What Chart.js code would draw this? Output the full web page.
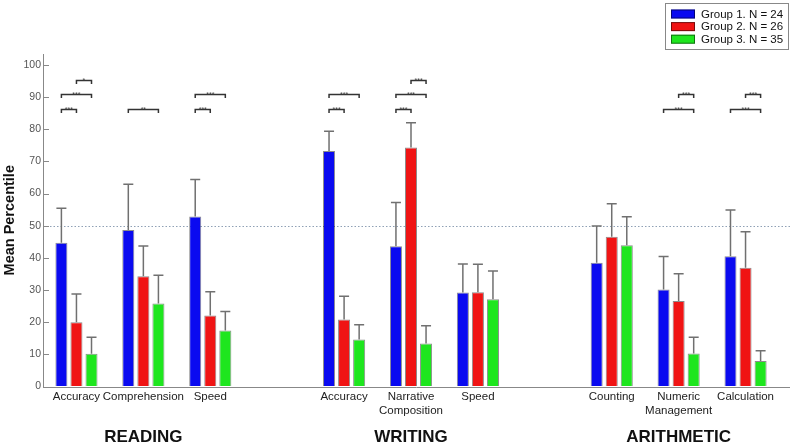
<!DOCTYPE html>
<html>
<head>
<meta charset="utf-8">
<script src="https://cdn.jsdelivr.net/npm/chart.js@4"></script>
<style>
  html, body { margin: 0; padding: 0; background: #fff; }
  #wrap { width: 794px; height: 447px; }
</style>
</head>
<body>
<div id="wrap"><canvas id="chart" width="794" height="447"></canvas></div>
<script>
// categories (blank slots separate the three domains)
const categories = ['Accuracy', 'Comprehension', 'Speed', '',
  'Accuracy', ['Narrative', 'Composition'], 'Speed', '',
  'Counting', ['Numeric', 'Management'], 'Calculation'];
const domains = ['READING', 'WRITING', 'ARITHMETIC'];
const domainCategory = [1, 5, 9]; // which category each domain title sits under

const groupLabels = ['Group 1. N = 24', 'Group 2. N = 26', 'Group 3. N = 35'];
const groupColors = ['#0a0af0', '#f01414', '#1ee61e'];

// means and top of error bars
const group1Means = [44.7, 48.7, 52.9, null, 73.2, 43.6, 29.2, null, 38.5, 30.2, 40.5];
const group1Upper = [55.4, 62.9, 64.4, null, 79.4, 57.2, 38.1, null, 49.9, 40.4, 54.9];
const group2Means = [20.0, 34.3, 22.1, null, 20.8, 74.3, 29.3, null, 46.6, 26.6, 36.9];
const group2Upper = [28.8, 43.7, 29.5, null, 28.1, 82.0, 38.0, null, 56.8, 35.1, 48.1];
const group3Means = [10.2, 25.8, 17.4, null, 14.6, 13.4, 27.1, null, 43.9, 10.3, 7.9];
const group3Upper = [15.3, 34.6, 23.3, null, 19.2, 18.9, 35.9, null, 52.8, 15.3, 11.1];

const yTicks = [0, 10, 20, 30, 40, 50, 60, 70, 80, 90, 100];
const refLine = 50;

// significance brackets: [category, group a, group b, height, stars]
const sigBrackets = [
  [0, 0, 1, 86.3, '***'], [0, 0, 2, 91.1, '***'], [0, 1, 2, 95.3, '*'],
  [1, 0, 2, 86.3, '**'],
  [2, 0, 1, 86.3, '***'], [2, 0, 2, 91.1, '***'],
  [4, 0, 1, 86.3, '***'], [4, 0, 2, 91.1, '***'],
  [5, 0, 1, 86.3, '***'], [5, 0, 2, 91.1, '***'], [5, 1, 2, 95.3, '***'],
  [9, 0, 2, 86.3, '***'], [9, 1, 2, 91.1, '***'],
  [10, 0, 2, 86.3, '***'], [10, 1, 2, 91.1, '***']
];

const upperByGroup = [group1Upper, group2Upper, group3Upper];
const FONT = '"Liberation Sans", Arial, sans-serif';
const AXIS_END = 790; // original axis line runs a bit past the last bars

const extras = {
  id: 'extras',
  beforeDatasetsDraw(chart) {
    const ctx = chart.ctx, a = chart.chartArea, y = chart.scales.y;
    ctx.save();
    // dotted 50th percentile line
    const py = Math.round(y.getPixelForValue(refLine)) + 0.5;
    ctx.strokeStyle = '#8fa0b5';
    ctx.lineWidth = 1;
    ctx.setLineDash([1.5, 2]);
    ctx.beginPath();
    ctx.moveTo(a.left, py);
    ctx.lineTo(AXIS_END, py);
    ctx.stroke();
    ctx.setLineDash([]);
    // inward y ticks
    ctx.strokeStyle = '#888';
    yTicks.forEach(v => {
      const ty = Math.round(y.getPixelForValue(v)) + 0.5;
      ctx.beginPath();
      ctx.moveTo(a.left, ty);
      ctx.lineTo(a.left + 6, ty);
      ctx.stroke();
    });
    ctx.restore();
  },
  afterDatasetsDraw(chart) {
    const ctx = chart.ctx, a = chart.chartArea, y = chart.scales.y;
    ctx.save();
    // error bars (upper only)
    ctx.strokeStyle = '#707070';
    ctx.lineWidth = 1.5;
    upperByGroup.forEach((upper, d) => {
      const meta = chart.getDatasetMeta(d);
      upper.forEach((u, i) => {
        if (u == null) return;
        const bar = meta.data[i];
        const top = y.getPixelForValue(u);
        ctx.beginPath();
        ctx.moveTo(bar.x, bar.y);
        ctx.lineTo(bar.x, top);
        ctx.moveTo(bar.x - 5, top);
        ctx.lineTo(bar.x + 5, top);
        ctx.stroke();
      });
    });
    // x axis line
    const by = Math.round(a.bottom) + 0.5;
    ctx.strokeStyle = '#888';
    ctx.lineWidth = 1;
    ctx.beginPath();
    ctx.moveTo(a.left, by);
    ctx.lineTo(AXIS_END, by);
    ctx.stroke();
    // significance brackets
    ctx.strokeStyle = '#333';
    ctx.lineWidth = 1.5;
    ctx.fillStyle = '#444';
    ctx.font = '7px ' + FONT;
    ctx.textAlign = 'center';
    ctx.textBaseline = 'alphabetic';
    sigBrackets.forEach(([c, g1, g2, lvl, stars]) => {
      const x1 = chart.getDatasetMeta(g1).data[c].x;
      const x2 = chart.getDatasetMeta(g2).data[c].x;
      const ly = Math.round(y.getPixelForValue(lvl)) + 0.5;
      ctx.beginPath();
      ctx.moveTo(x1, ly + 3.5);
      ctx.lineTo(x1, ly);
      ctx.lineTo(x2, ly);
      ctx.lineTo(x2, ly + 3.5);
      ctx.stroke();
      ctx.fillText(stars, (x1 + x2) / 2, ly + 2);
    });
    ctx.restore();
  },
  afterDraw(chart) {
    const ctx = chart.ctx, x = chart.scales.x;
    ctx.save();
    // domain titles
    ctx.fillStyle = '#111';
    ctx.font = 'bold 17px ' + FONT;
    ctx.textAlign = 'center';
    ctx.textBaseline = 'middle';
    domains.forEach((name, i) => {
      ctx.fillText(name, x.getPixelForValue(domainCategory[i]), 437);
    });
    // legend box
    ctx.strokeStyle = '#888';
    ctx.lineWidth = 1;
    ctx.strokeRect(665.5, 3.5, 123, 46);
    ctx.font = '11.5px ' + FONT;
    ctx.textAlign = 'left';
    chart.data.datasets.forEach((ds, i) => {
      const cy = 14 + i * 12.6;
      ctx.fillStyle = ds.backgroundColor;
      ctx.fillRect(671, cy - 4.5, 24, 9);
      ctx.strokeStyle = 'rgba(0,0,0,0.5)';
      ctx.strokeRect(671.5, cy - 4, 23, 8);
      ctx.fillStyle = '#111';
      ctx.fillText(ds.label, 701, cy + 0.5);
    });
    ctx.restore();
  }
};

const datasets = [group1Means, group2Means, group3Means].map((vals, i) => ({
  label: groupLabels[i],
  data: vals,
  backgroundColor: groupColors[i],
  borderColor: 'rgba(0,0,0,0.45)',
  borderWidth: 1,
  barPercentage: 0.8,
  categoryPercentage: 0.675
}));

new Chart(document.getElementById('chart'), {
  type: 'bar',
  data: { labels: categories, datasets: datasets },
  options: {
    responsive: false,
    animation: false,
    layout: { padding: { left: 0, right: 15, top: 54, bottom: 30 } },
    plugins: {
      legend: { display: false },
      tooltip: { enabled: false }
    },
    scales: {
      x: {
        grid: { display: false, drawTicks: false },
        border: { display: false },
        ticks: {
          color: '#222',
          font: { family: FONT, size: 11.5, lineHeight: 1.25 },
          padding: 3,
          maxRotation: 0,
          autoSkip: false
        },
        afterFit(scale) { scale.height = 30.5; }
      },
      y: {
        min: 0,
        max: 103.4,
        grid: { display: true, drawOnChartArea: false, drawTicks: false },
        border: { display: true, color: '#888' },
        ticks: {
          color: '#555',
          font: { family: FONT, size: 10.5 },
          padding: 2,
          stepSize: 10
        },
        afterBuildTicks(scale) { scale.ticks = yTicks.map(v => ({ value: v })); },
        title: {
          display: true,
          text: 'Mean Percentile',
          color: '#111',
          font: { family: FONT, size: 14.5, weight: 'bold' },
          padding: { top: 1, bottom: 0 }
        },
        afterFit(scale) { scale.width = 43; }
      }
    }
  },
  plugins: [extras]
});
</script>
</body>
</html>
